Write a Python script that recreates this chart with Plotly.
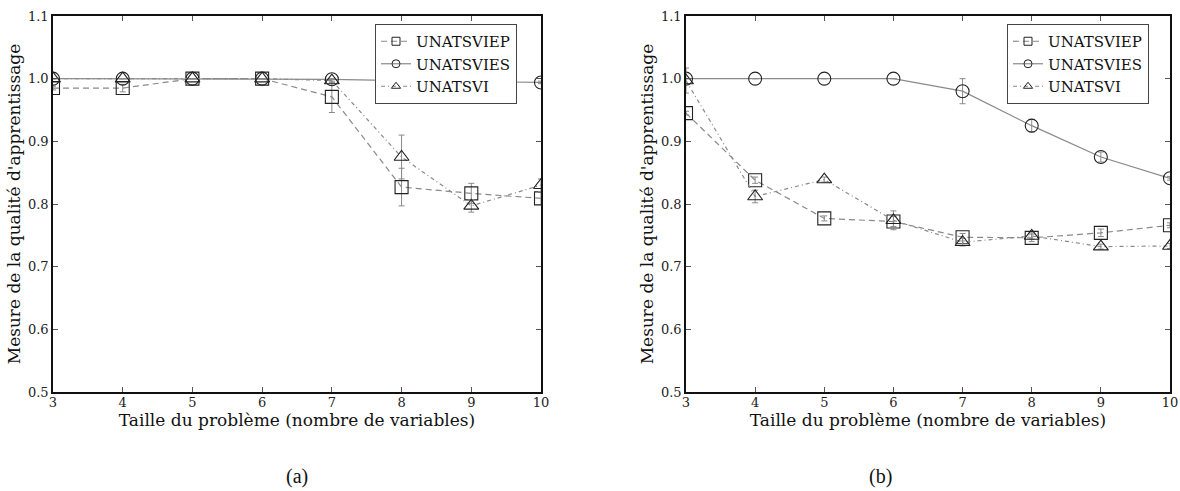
import plotly.graph_objects as go
from plotly.subplots import make_subplots

# Problem size (number of variables)
taille = [3, 4, 5, 6, 7, 8, 9, 10]

# Panel (a)
unatsviep_a = [0.985, 0.985, 1.0, 1.0, 0.971, 0.827, 0.817, 0.809]
unatsviep_a_err = [0.003, 0.006, 0.0, 0.0, 0.025, 0.030, 0.016, 0.010]
unatsvies_a = [1.0, 1.0, 1.0, 1.0, 0.999, 0.997, 0.995, 0.994]
unatsvies_a_err = [0.0, 0.0, 0.0, 0.0, 0.0, 0.002, 0.002, 0.002]
unatsvi_a = [1.0, 1.0, 1.0, 1.0, 0.997, 0.875, 0.797, 0.830]
unatsvi_a_err = [0.0, 0.0, 0.0, 0.0, 0.003, 0.035, 0.010, 0.010]

# Panel (b)
unatsviep_b = [0.945, 0.838, 0.777, 0.772, 0.747, 0.746, 0.754, 0.766]
unatsviep_b_err = [0.003, 0.005, 0.004, 0.008, 0.006, 0.006, 0.006, 0.004]
unatsvies_b = [1.0, 1.0, 1.0, 1.0, 0.980, 0.925, 0.875, 0.841]
unatsvies_b_err = [0.0, 0.0, 0.0, 0.0, 0.020, 0.010, 0.008, 0.003]
unatsvi_b = [0.997, 0.812, 0.839, 0.774, 0.739, 0.749, 0.732, 0.733]
unatsvi_b_err = [0.020, 0.010, 0.004, 0.015, 0.006, 0.005, 0.004, 0.004]

series_names = ["UNATSVIEP", "UNATSVIES", "UNATSVI"]
y_ticks = [0.5, 0.6, 0.7, 0.8, 0.9, 1.0, 1.1]
panel_labels = ["(a)", "(b)"]

SERIF = "DejaVu Serif"
LINE_GRAY = "#8a8a8a"
EDGE = "#222222"

styles = [
    dict(symbol="square-open", dash="6px,4px"),
    dict(symbol="circle-open", dash="solid"),
    dict(symbol="triangle-up-open", dash="4px,3px,1px,3px"),
]

fig = make_subplots(rows=1, cols=2, horizontal_spacing=0.1)

panels = [
    ([unatsviep_a, unatsvies_a, unatsvi_a],
     [unatsviep_a_err, unatsvies_a_err, unatsvi_a_err], "legend"),
    ([unatsviep_b, unatsvies_b, unatsvi_b],
     [unatsviep_b_err, unatsvies_b_err, unatsvi_b_err], "legend2"),
]

for col, (ys, errs, leg) in enumerate(panels, start=1):
    for name, y, e, st in zip(series_names, ys, errs, styles):
        fig.add_trace(
            go.Scatter(
                x=taille, y=y, mode="lines+markers", name=name,
                showlegend=False,
                line=dict(color=LINE_GRAY, width=1.2, dash=st["dash"]),
                marker=dict(symbol=st["symbol"], size=13, color=EDGE,
                            line=dict(width=1.1)),
                error_y=dict(type="data", array=e, visible=True,
                             color=LINE_GRAY, thickness=1, width=3),
            ),
            row=1, col=col,
        )
    # legend entries with small markers
    for name, st in zip(series_names, styles):
        fig.add_trace(
            go.Scatter(
                x=[None], y=[None], mode="lines+markers", name=name,
                legend=leg, showlegend=True,
                line=dict(color=LINE_GRAY, width=1.2, dash=st["dash"]),
                marker=dict(symbol=st["symbol"], size=8, color=EDGE,
                            line=dict(width=1)),
            ),
            row=1, col=col,
        )

axis_common = dict(
    showline=True, linewidth=1.6, linecolor="#111", mirror="ticks",
    ticks="inside", ticklen=5, tickcolor="#555", tickwidth=1,
    showgrid=False, zeroline=False,
    tickfont=dict(family=SERIF, size=13, color="#222"),
    automargin=False,
)

x_domains = [[53 / 1180, 541 / 1180], [686 / 1180, 1170 / 1180]]
y_domain = [1 - 392 / 491, 1 - 16 / 491]

for i in (1, 2):
    fig.update_xaxes(
        range=[3, 10], tickvals=taille, ticktext=[str(v) for v in taille],
        domain=x_domains[i - 1], ticklabelstandoff=-2,
        title=dict(text="Taille du problème (nombre de variables)",
                   font=dict(family=SERIF, size=17, color="#111"), standoff=1),
        **axis_common, row=1, col=i,
    )
    fig.update_yaxes(
        range=[0.5, 1.1], tickvals=y_ticks,
        ticktext=[f"{v:.1f}" for v in y_ticks],
        domain=y_domain, ticklabelstandoff=0,
        title=dict(text="Mesure de la qualité d'apprentissage",
                   font=dict(family=SERIF, size=17, color="#111"), standoff=3),
        **axis_common, row=1, col=i,
    )

legend_common = dict(
    xanchor="left", yanchor="top", bgcolor="white",
    bordercolor="#444", borderwidth=1,
    font=dict(family=SERIF, size=15, color="#111"),
    itemwidth=30, tracegroupgap=0,
)

fig.update_layout(
    width=1180, height=491,
    margin=dict(l=0, r=0, t=0, b=0),
    paper_bgcolor="white", plot_bgcolor="white",
    legend=dict(x=375 / 1180, y=1 - 24 / 491, **legend_common),
    legend2=dict(x=1007 / 1180, y=1 - 24 / 491, **legend_common),
    annotations=[
        dict(text=panel_labels[0], x=297 / 1180, y=1 - 476 / 491,
             xref="paper", yref="paper", showarrow=False,
             xanchor="center", yanchor="middle",
             font=dict(family="Liberation Serif", size=20, color="#111")),
        dict(text=panel_labels[1], x=880 / 1180, y=1 - 476 / 491,
             xref="paper", yref="paper", showarrow=False,
             xanchor="center", yanchor="middle",
             font=dict(family="Liberation Serif", size=20, color="#111")),
    ],
)

fig.write_html("out.html")
